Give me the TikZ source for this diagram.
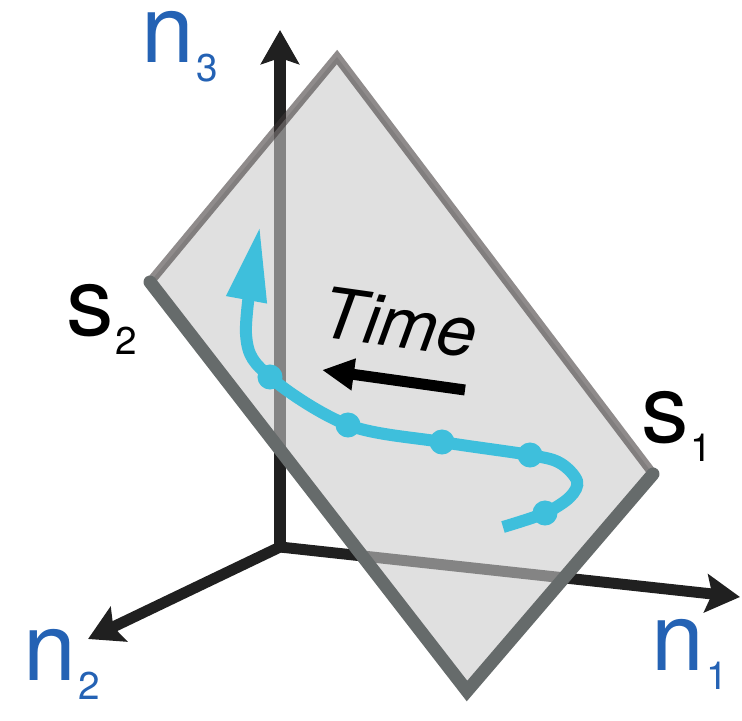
\documentclass[tikz,border=0pt]{standalone}
\usepackage{fontspec}
\setmainfont{TeX Gyre Heros}
\usepackage{tikz}
\usetikzlibrary{arrows.meta, positioning}
\definecolor{axisblue}{RGB}{36, 98, 180}
\definecolor{trajcyan}{RGB}{62, 191, 220}
\definecolor{rimgray}{RGB}{62, 56, 56}
\definecolor{rimdarkgray}{RGB}{102, 107, 107}
\definecolor{planegray}{RGB}{202, 202, 202}
\definecolor{axisblack}{RGB}{32, 32, 32}
\newcommand{\sublbl}[2]{#1\kern0.5pt\raisebox{-0.19cm}{\fontsize{11}{11}\selectfont #2}}

\begin{document}
\begin{tikzpicture}[
        x=0.01cm, y=-0.01cm,
        axis/.style={line width=0.11cm, color=axisblack,
            -{Stealth[length=0.34cm, width=0.38cm, inset=0.06cm]}},
        plane/.style={fill=planegray, fill opacity=0.59, draw=none},
        rim/.style={line width=0.09cm, draw=rimgray, draw opacity=0.58, line join=miter},
        rimdark/.style={line width=0.13cm, draw=rimdarkgray, line cap=round, line join=miter},
        traj/.style={line width=0.12cm, color=trajcyan,
            -{Triangle[length=0.75cm, width=0.38cm]}},
        dot/.style={circle, fill=trajcyan, inner sep=0pt, minimum size=0.25cm},
        timearrow/.style={line width=0.11cm, color=black,
            -{Triangle[length=0.32cm, width=0.30cm]}},
        nlabel/.style={inner sep=0pt, anchor=base west, color=axisblue,
            font=\fontsize{27}{30}\selectfont},
        slabel/.style={inner sep=0pt, anchor=base west,
            font=\fontsize{27}{30}\selectfont}
        ]
        \useasboundingbox (0,0) rectangle (742,721);

        \coordinate (origin) at (280,547);
        \coordinate (n1tip) at (740,597);
        \coordinate (n2tip) at (88,639);
        \coordinate (n3tip) at (280,30);

        \draw[axis] (origin) -- (n1tip);
        \draw[axis] (origin) -- (n2tip);
        \draw[axis] (origin) -- (n3tip);

        \coordinate (ptop) at (337,57);
        \coordinate (pleft) at (150,282);
        \coordinate (pbottom) at (467,691);
        \coordinate (pright) at (653,474);

        \fill[plane] (ptop) -- (pleft) -- (pbottom) -- (pright) -- cycle;
        \draw[rim] (pleft) -- (ptop) -- (pright);
        \draw[rimdark] (pleft) -- (pbottom) -- (pright);

        \coordinate (tail) at (503,527);
        \coordinate (d1) at (545,513);
        \coordinate (d2) at (530,455);
        \coordinate (d3) at (442,442);
        \coordinate (d4) at (348,425);
        \coordinate (d5) at (270,377);
        \coordinate (head) at (260,226);

        \draw[traj] plot[smooth, tension=0.55] coordinates {(tail) (d1) (570,497)
            (577,481) (560,463) (d2) (d3) (d4) (d5) (246,334) (head)};
        \foreach \d in {d1, d2, d3, d4, d5}
            \node[dot] at (\d) {};

        \node[inner sep=0pt, anchor=base west, rotate=-8,
            font=\fontsize{20}{24}\selectfont\itshape] (time) at (318,336) {Time};
        \coordinate (timetail) at (465,390);
        \coordinate (timetip) at (322,370);
        \draw[timearrow] (timetail) -- (timetip);

        \node[nlabel] (n1lab) at (651,670) {\sublbl{n}{1}};
        \node[nlabel] (n2lab) at (23,680) {\sublbl{n}{2}};
        \node[nlabel] (n3lab) at (141,62) {\sublbl{n}{3}};
        \node[slabel] (s1lab) at (641,442) {\sublbl{s}{1}};
        \node[slabel] (s2lab) at (66,335) {\sublbl{s}{2}};
    \end{tikzpicture}
\end{document}
